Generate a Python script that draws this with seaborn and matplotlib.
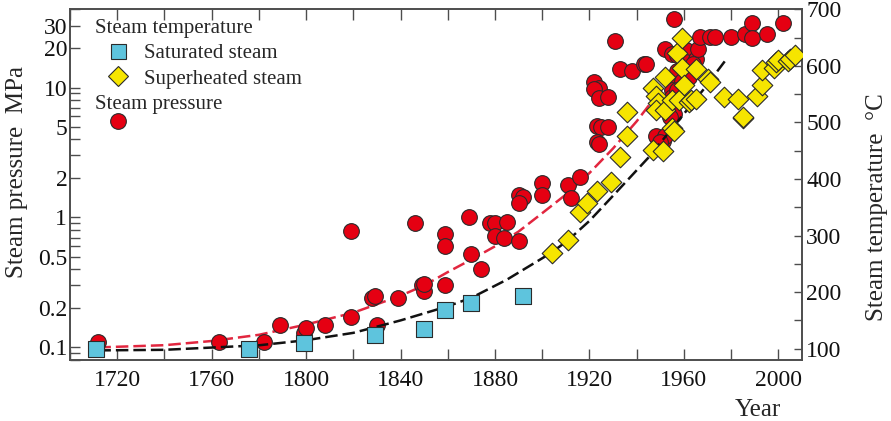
import matplotlib
matplotlib.use('Agg')
import matplotlib.pyplot as plt
from matplotlib.lines import Line2D
from matplotlib.ticker import (FixedLocator, FixedFormatter, LogLocator,
                               NullFormatter, MultipleLocator)
import seaborn as sns

# Steam pressure (MPa), left log axis
pressure_years = [1712, 1763, 1782, 1789, 1799, 1800, 1808, 1819, 1819, 1828,
                  1829, 1830, 1839, 1846, 1849, 1850, 1850, 1859, 1859, 1859,
                  1869, 1870, 1874, 1878, 1880, 1885, 1880, 1884, 1890, 1890,
                  1892, 1890, 1900, 1900, 1911, 1912, 1916, 1922, 1924, 1922,
                  1924, 1928, 1923, 1925, 1928, 1923, 1924, 1931, 1933, 1938,
                  1943, 1944, 1948, 1951, 1952, 1950, 1952, 1956, 1955, 1955,
                  1955, 1955, 1955, 1956, 1954, 1957, 1959, 1957, 1957, 1961,
                  1961, 1962, 1965, 1964, 1966, 1967, 1971, 1973, 1980, 1986,
                  1989, 1989, 1995, 2002]
pressure_mpa = [0.11, 0.11, 0.11, 0.15, 0.13, 0.14, 0.15, 0.17, 0.79, 0.24,
                0.25, 0.15, 0.24, 0.91, 0.30, 0.27, 0.31, 0.74, 0.60, 0.30,
                1.01, 0.52, 0.40, 0.90, 0.91, 0.92, 0.72, 0.70, 0.66, 1.48,
                1.44, 1.30, 1.84, 1.48, 1.77, 1.40, 2.05, 11.0, 10.0, 9.8,
                8.3, 8.4, 5.1, 5.0, 5.0, 3.8, 3.7, 22.7, 13.9, 13.5,
                15.1, 15.1, 4.2, 3.9, 4.2, 3.8, 19.9, 33.8, 18.2, 11.3,
                9.5, 8.4, 6.7, 6.3, 5.9, 13.5, 11.3, 9.5, 17.7, 19.3,
                15.7, 12.0, 16.6, 15.3, 19.9, 24.4, 24.4, 24.7, 24.7, 25.9,
                31.3, 24.2, 25.9, 31.3]

# Saturated steam temperature (deg C), right axis
saturated_years = [1711, 1776, 1799, 1829, 1850, 1859, 1870, 1892]
saturated_temp = [100, 100, 110, 124, 134, 168, 180, 193]

# Superheated steam temperature (deg C), right axis
superheated_years = [1904, 1911, 1916, 1919, 1923, 1929, 1933, 1936, 1936, 1947,
                     1951, 1955, 1956, 1947, 1948, 1949, 1948, 1952, 1952, 1955,
                     1957, 1959, 1959, 1958, 1960, 1962, 1963, 1965, 1965, 1970,
                     1971, 1977, 1983, 1985, 1985, 1991, 1993, 1993, 1998, 1999,
                     2000, 2004, 2005, 2007]
superheated_temp = [270, 292, 342, 358, 378, 395, 439, 476, 519, 451,
                    450, 490, 484, 560, 546, 534, 522, 522, 580, 540,
                    622, 649, 596, 540, 566, 537, 540, 594, 541, 576,
                    572, 545, 541, 507, 510, 546, 566, 593, 596, 607,
                    610, 609, 612, 620]

# Trend lines
pressure_trend_years = [1712, 1740, 1760, 1780, 1800, 1820, 1840, 1850, 1860,
                        1870, 1880, 1890, 1900, 1910, 1920, 1930, 1940, 1950]
pressure_trend_mpa = [0.100, 0.104, 0.112, 0.125, 0.15, 0.185, 0.25, 0.30, 0.38,
                      0.475, 0.60, 0.78, 1.08, 1.5, 2.2, 3.4, 5.5, 9.5]
temp_trend_years = [1712, 1740, 1760, 1780, 1800, 1820, 1840, 1860, 1870,
                    1885, 1904, 1911, 1920, 1929, 1945, 1959, 1969, 1978]
temp_trend_c = [97, 98, 102, 106, 115, 128, 150, 175, 190,
                222, 270, 292, 326, 366, 438, 510, 562, 612]

pressure_ticks = [0.1, 0.2, 0.5, 1, 2, 5, 10, 20, 30]
pressure_tick_labels = ['0.1', '0.2', '0.5', '1', '2', '5', '10', '20', '30']

RED = '#e50012'
RED_LINE = '#e2263f'
CYAN = '#5ec4dd'
YELLOW = '#f6e500'
EDGE = '#2b2b2b'
AXIS = '#4d4d4d'

sns.set_theme(style='white')
plt.rcParams['font.family'] = ['Liberation Serif', 'DejaVu Serif']
plt.rcParams['axes.edgecolor'] = AXIS
plt.rcParams['axes.linewidth'] = 1.2

fig = plt.figure(figsize=(8.91, 4.21), dpi=100)
ax = fig.add_axes([0.0786, 0.1449, 0.8215, 0.833])
ax2 = ax.twinx()

# pressure: circles + red trend on the left (log) axis
sns.lineplot(x=pressure_trend_years, y=pressure_trend_mpa, ax=ax, color=RED_LINE,
             linewidth=1.8, linestyle=(0, (5, 2)), zorder=2)
sns.scatterplot(x=pressure_years, y=pressure_mpa, ax=ax, marker='o', s=128,
                color=RED, edgecolor=EDGE, linewidth=0.8, zorder=3)

# temperature: squares, diamonds + black trend on the right axis
sns.lineplot(x=temp_trend_years, y=temp_trend_c, ax=ax2, color='#111111',
             linewidth=1.8, linestyle=(0, (5, 2)), zorder=2)
sns.scatterplot(x=saturated_years, y=saturated_temp, ax=ax2, marker='s', s=117,
                color=CYAN, edgecolor=EDGE, linewidth=0.8, zorder=3)
sns.scatterplot(x=superheated_years, y=superheated_temp, ax=ax2, marker='D', s=110,
                color=YELLOW, edgecolor=EDGE, linewidth=0.8, zorder=4)

ax.set_yscale('log')
ax.set_xlim(1700, 2010)
ax.set_ylim(0.08, 40)
ax2.set_ylim(80, 700)

ax.xaxis.set_minor_locator(MultipleLocator(20))
ax.set_xticks(list(range(1720, 2001, 40)))
ax.yaxis.set_major_locator(FixedLocator(pressure_ticks))
ax.yaxis.set_major_formatter(FixedFormatter(pressure_tick_labels))
ax.yaxis.set_minor_locator(LogLocator(base=10, subs=[2, 3, 4, 5, 6, 7, 8, 9]))
ax.yaxis.set_minor_formatter(NullFormatter())
ax2.yaxis.set_major_locator(MultipleLocator(100))
ax2.yaxis.set_minor_locator(MultipleLocator(50))

ax.tick_params(axis='x', which='both', direction='in', top=True, bottom=True,
               length=8, width=1, color=AXIS, labelsize=17, pad=7, labelcolor='#111111')
ax.tick_params(axis='y', which='both', direction='in', left=True, right=False,
               length=7, width=1, color=AXIS, labelsize=17, pad=2, labelcolor='#111111')
ax2.tick_params(axis='y', which='both', direction='in', right=True,
                length=6, width=1, color=AXIS, labelsize=17, pad=3, labelcolor='#111111')

ax.set_xlabel('Year', fontsize=18, va='center')
ax.xaxis.set_label_coords(0.94, -0.142)
ax.set_ylabel('Steam pressure  MPa', fontsize=18, va='center')
ax.yaxis.set_label_coords(-0.072, 0.536)
ax2.set_ylabel('Steam temperature  \u00b0C', fontsize=18, va='center', rotation=90)
ax2.yaxis.set_label_coords(1.102, 0.436)

# legend: two blocks, each with a left-aligned header
sat_handle = Line2D([], [], linestyle='none', marker='s', markersize=10.8,
                    markerfacecolor=CYAN, markeredgecolor=EDGE, markeredgewidth=0.8)
sup_handle = Line2D([], [], linestyle='none', marker='D', markersize=10.5,
                    markerfacecolor=YELLOW, markeredgecolor=EDGE, markeredgewidth=0.8)
prs_handle = Line2D([], [], linestyle='none', marker='o', markersize=11.3,
                    markerfacecolor=RED, markeredgecolor=EDGE, markeredgewidth=0.8)

leg1 = ax2.legend(handles=[sat_handle, sup_handle],
                  labels=['Saturated steam', 'Superheated steam'],
                  title='Steam temperature', loc='upper left',
                  bbox_to_anchor=(0.034, 0.972), frameon=False, fontsize=15,
                  title_fontsize=15, alignment='left', borderpad=0,
                  borderaxespad=0, handlelength=2.2, handletextpad=0.15,
                  labelspacing=0.27)
ax2.add_artist(leg1)
ax2.legend(handles=[prs_handle], labels=[''], title='Steam pressure',
           loc='upper left', bbox_to_anchor=(0.034, 0.757), frameon=False,
           fontsize=15, title_fontsize=15, alignment='left', borderpad=0,
           borderaxespad=0, handlelength=2.2, handletextpad=0.15,
           labelspacing=0.0)

for side in ['top', 'bottom', 'left', 'right']:
    ax2.spines[side].set_color(AXIS)

fig.savefig('out.png', dpi=100)
